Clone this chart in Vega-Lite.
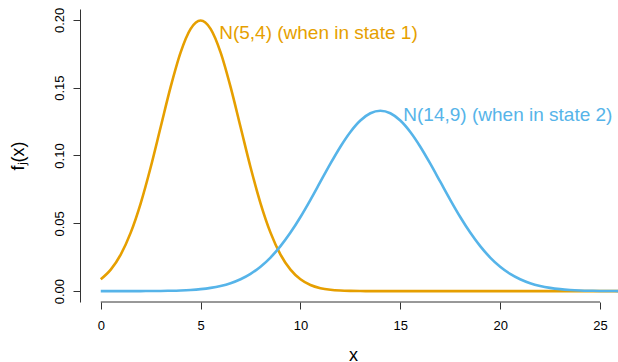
{
  "$schema": "https://vega.github.io/schema/vega-lite/v6.json",
  "width": 548,
  "height": 293,
  "autosize": {"type": "none"},
  "padding": {"left": 70, "top": 9, "right": 0, "bottom": 60},
  "background": "white",
  "config": {
    "view": {"stroke": null},
    "font": "Liberation Sans",
    "axis": {
      "grid": false,
      "domain": false,
      "tickColor": "#333333",
      "tickSize": 7,
      "tickWidth": 1,
      "labelFont": "Liberation Sans",
      "labelFontSize": 13,
      "labelColor": "#000000",
      "titleFont": "Liberation Sans",
      "titleFontSize": 18,
      "titleFontWeight": "normal",
      "titleColor": "#000000"
    }
  },
  "datasets": {
    "dens": [
      {"state": "1", "x": 0, "density": 0.008764},
      {"state": "1", "x": 0.5, "density": 0.015870},
      {"state": "1", "x": 1, "density": 0.026995},
      {"state": "1", "x": 1.5, "density": 0.043139},
      {"state": "1", "x": 2, "density": 0.064759},
      {"state": "1", "x": 2.5, "density": 0.091324},
      {"state": "1", "x": 3, "density": 0.120985},
      {"state": "1", "x": 3.5, "density": 0.150569},
      {"state": "1", "x": 4, "density": 0.176033},
      {"state": "1", "x": 4.5, "density": 0.193334},
      {"state": "1", "x": 5, "density": 0.199471},
      {"state": "1", "x": 5.5, "density": 0.193334},
      {"state": "1", "x": 6, "density": 0.176033},
      {"state": "1", "x": 6.5, "density": 0.150569},
      {"state": "1", "x": 7, "density": 0.120985},
      {"state": "1", "x": 7.5, "density": 0.091324},
      {"state": "1", "x": 8, "density": 0.064759},
      {"state": "1", "x": 8.5, "density": 0.043139},
      {"state": "1", "x": 9, "density": 0.026995},
      {"state": "1", "x": 9.5, "density": 0.015870},
      {"state": "1", "x": 10, "density": 0.008764},
      {"state": "1", "x": 10.5, "density": 0.004547},
      {"state": "1", "x": 11, "density": 0.002216},
      {"state": "1", "x": 11.5, "density": 0.001015},
      {"state": "1", "x": 12, "density": 0.000436},
      {"state": "1", "x": 12.5, "density": 0.000176},
      {"state": "1", "x": 13, "density": 0.000067},
      {"state": "1", "x": 13.5, "density": 0.000024},
      {"state": "1", "x": 14, "density": 0.000008},
      {"state": "1", "x": 15, "density": 0},
      {"state": "1", "x": 16, "density": 0},
      {"state": "1", "x": 17, "density": 0},
      {"state": "1", "x": 18, "density": 0},
      {"state": "1", "x": 19, "density": 0},
      {"state": "1", "x": 20, "density": 0},
      {"state": "1", "x": 21, "density": 0},
      {"state": "1", "x": 22, "density": 0},
      {"state": "1", "x": 23, "density": 0},
      {"state": "1", "x": 24, "density": 0},
      {"state": "1", "x": 25, "density": 0},
      {"state": "1", "x": 26, "density": 0},
      {"state": "2", "x": 0, "density": 0.0000025},
      {"state": "2", "x": 0.5, "density": 0.0000053},
      {"state": "2", "x": 1, "density": 0.0000111},
      {"state": "2", "x": 1.5, "density": 0.0000226},
      {"state": "2", "x": 2, "density": 0.0000446},
      {"state": "2", "x": 2.5, "density": 0.0000856},
      {"state": "2", "x": 3, "density": 0.000160},
      {"state": "2", "x": 3.5, "density": 0.000291},
      {"state": "2", "x": 4, "density": 0.000514},
      {"state": "2", "x": 4.5, "density": 0.000884},
      {"state": "2", "x": 5, "density": 0.001477},
      {"state": "2", "x": 5.5, "density": 0.002402},
      {"state": "2", "x": 6, "density": 0.003799},
      {"state": "2", "x": 6.5, "density": 0.005843},
      {"state": "2", "x": 7, "density": 0.008741},
      {"state": "2", "x": 7.5, "density": 0.012717},
      {"state": "2", "x": 8, "density": 0.017997},
      {"state": "2", "x": 8.5, "density": 0.024770},
      {"state": "2", "x": 9, "density": 0.033159},
      {"state": "2", "x": 9.5, "density": 0.043173},
      {"state": "2", "x": 10, "density": 0.054670},
      {"state": "2", "x": 10.5, "density": 0.067333},
      {"state": "2", "x": 11, "density": 0.080657},
      {"state": "2", "x": 11.5, "density": 0.093970},
      {"state": "2", "x": 12, "density": 0.106483},
      {"state": "2", "x": 12.5, "density": 0.117355},
      {"state": "2", "x": 13, "density": 0.125795},
      {"state": "2", "x": 13.5, "density": 0.131147},
      {"state": "2", "x": 14, "density": 0.132981},
      {"state": "2", "x": 14.5, "density": 0.131147},
      {"state": "2", "x": 15, "density": 0.125795},
      {"state": "2", "x": 15.5, "density": 0.117355},
      {"state": "2", "x": 16, "density": 0.106483},
      {"state": "2", "x": 16.5, "density": 0.093970},
      {"state": "2", "x": 17, "density": 0.080657},
      {"state": "2", "x": 17.5, "density": 0.067333},
      {"state": "2", "x": 18, "density": 0.054670},
      {"state": "2", "x": 18.5, "density": 0.043173},
      {"state": "2", "x": 19, "density": 0.033159},
      {"state": "2", "x": 19.5, "density": 0.024770},
      {"state": "2", "x": 20, "density": 0.017997},
      {"state": "2", "x": 20.5, "density": 0.012717},
      {"state": "2", "x": 21, "density": 0.008741},
      {"state": "2", "x": 21.5, "density": 0.005843},
      {"state": "2", "x": 22, "density": 0.003799},
      {"state": "2", "x": 22.5, "density": 0.002402},
      {"state": "2", "x": 23, "density": 0.001477},
      {"state": "2", "x": 23.5, "density": 0.000884},
      {"state": "2", "x": 24, "density": 0.000514},
      {"state": "2", "x": 24.5, "density": 0.000291},
      {"state": "2", "x": 25, "density": 0.000160},
      {"state": "2", "x": 25.5, "density": 0.0000856},
      {"state": "2", "x": 26, "density": 0.0000446}
    ],
    "labels": [
      {"state": "1", "x": 5.93, "density": 0.1857, "text": "N(5,4) (when in state 1)"},
      {"state": "2", "x": 15.15, "density": 0.1257, "text": "N(14,9) (when in state 2)"}
    ]
  },
  "layer": [
    {
      "data": {"name": "dens"},
      "mark": {"type": "line", "strokeWidth": 2.6, "clip": true, "interpolate": "monotone"},
      "encoding": {
        "x": {
          "field": "x",
          "type": "quantitative",
          "scale": {"domain": [-1.54, 25.9], "nice": false, "zero": false},
          "axis": {
            "title": "x",
            "values": [0, 5, 10, 15, 20, 25],
            "labelPadding": 10,
            "labelBaseline": "top",
            "titleX": 283,
            "titleY": 58,
            "titleBaseline": "alphabetic",
            "titleAlign": "center"
          }
        },
        "y": {
          "field": "density",
          "type": "quantitative",
          "scale": {"domain": [-0.008, 0.208], "nice": false, "zero": false},
          "axis": {
            "title": "fⱼ(x)",
            "values": [0, 0.05, 0.1, 0.15, 0.2],
            "format": ".2f",
            "offset": -10,
            "domain": true,
            "domainColor": "#333333",
            "domainWidth": 1,
            "labelAngle": -90,
            "labelAlign": "center",
            "labelBaseline": "alphabetic",
            "labelPadding": 10,
            "titleAngle": -90,
            "titleX": -57,
            "titleBaseline": "alphabetic",
            "titleAlign": "center"
          }
        },
        "color": {
          "field": "state",
          "type": "nominal",
          "scale": {"domain": ["1", "2"], "range": ["#E69F00", "#56B4E9"]},
          "legend": null
        }
      }
    },
    {
      "data": {"values": [{}]},
      "mark": {"type": "rule", "color": "#333333", "strokeWidth": 1},
      "encoding": {
        "x": {"datum": 0},
        "x2": {"datum": 25},
        "y": {"datum": -0.008}
      }
    },
    {
      "data": {"name": "labels"},
      "mark": {"type": "text", "align": "left", "baseline": "alphabetic", "fontSize": 19, "font": "Liberation Sans"},
      "encoding": {
        "x": {"field": "x", "type": "quantitative"},
        "y": {"field": "density", "type": "quantitative"},
        "text": {"field": "text"},
        "color": {"field": "state", "type": "nominal", "legend": null}
      }
    }
  ]
}
